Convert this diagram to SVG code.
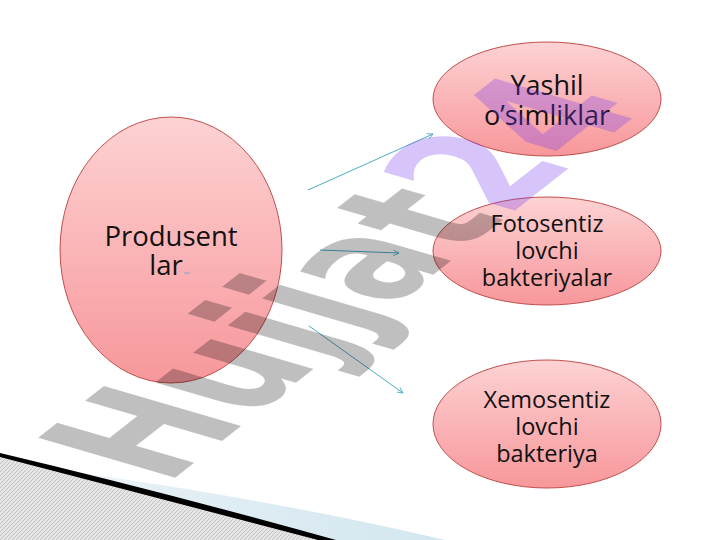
<svg xmlns="http://www.w3.org/2000/svg" width="720" height="540" viewBox="0 0 720 540">
  <defs>
    <linearGradient id="pinkFill" x1="0" y1="0" x2="0" y2="1">
      <stop offset="0" stop-color="#fdd2d3"/>
      <stop offset="1" stop-color="#f7979b"/>
    </linearGradient>
    <linearGradient id="blueBand" x1="0" y1="0" x2="1" y2="0">
      <stop offset="0" stop-color="#dcebf2" stop-opacity="0"/>
      <stop offset="0.35" stop-color="#dcebf2" stop-opacity="0.8"/>
      <stop offset="1" stop-color="#d3e6ef"/>
    </linearGradient>
    <pattern id="hatch" width="4" height="4" patternUnits="userSpaceOnUse">
      <rect width="4" height="4" fill="#e6e6e6"/>
      <path d="M-1,1 L1,-1 M0,4 L4,0 M3,5 L5,3" stroke="#c2c2c2" stroke-width="1"/>
    </pattern>
    <marker id="arrow" viewBox="0 0 10 10" refX="9" refY="5" markerWidth="7" markerHeight="7" markerUnits="userSpaceOnUse" orient="auto">
      <path d="M1,1 L9,5 L1,9" fill="none" stroke="#4bacc6" stroke-width="1.2"/>
    </marker>
    <style>
      .node ellipse { fill: url(#pinkFill); stroke: #c0504d; stroke-width: 1; }
      .node text { font-family: "Open Sans", "Noto Sans", sans-serif; fill: #111111; text-anchor: middle; }
      .conn line { stroke: #4bacc6; stroke-width: 1; marker-end: url(#arrow); }
    </style>
  </defs>

  <rect width="720" height="540" fill="#ffffff"/>

  <g id="decoration">
    <path d="M0,462 Q250,494 445,540 L330,540 Q150,492 0,455 Z" fill="url(#blueBand)"/>
    <path d="M0,456 Q150,494 322,540 L0,540 Z" fill="url(#hatch)"/>
    <path d="M0,453 Q160,491 336,540 L318,540 Q150,496 0,457 Z" fill="#000"/>
  </g>

  <g id="node-produsentlar" class="node">
    <ellipse cx="171" cy="250" rx="111" ry="133"/>
    <text font-size="27.5"><tspan x="171" y="246">Produsent</tspan><tspan x="166" y="275">lar</tspan></text>
    <line x1="184" y1="273" x2="190" y2="273" stroke="#7fa9b8" stroke-width="1"/>
  </g>

  <g id="node-yashil" class="node">
    <ellipse cx="547" cy="99" rx="114" ry="57"/>
    <text font-size="27"><tspan x="547" y="95">Yashil</tspan><tspan x="547" y="125">o’simliklar</tspan></text>
  </g>

  <g id="node-fotosentiz" class="node">
    <ellipse cx="547" cy="251" rx="114" ry="54"/>
    <text font-size="23.5"><tspan x="547" y="232">Fotosentiz</tspan><tspan x="547" y="259">lovchi</tspan><tspan x="547" y="286">bakteriyalar</tspan></text>
  </g>

  <g id="node-xemosentiz" class="node">
    <ellipse cx="547" cy="424" rx="114" ry="64"/>
    <text font-size="23.5"><tspan x="547" y="408">Xemosentiz</tspan><tspan x="547" y="435">lovchi</tspan><tspan x="547" y="462">bakteriya</tspan></text>
  </g>

  <g id="connectors" class="conn">
    <line x1="308" y1="190" x2="433" y2="134"/>
    <line x1="320" y1="250" x2="399" y2="253"/>
    <line x1="309" y1="326" x2="403" y2="393"/>
  </g>

  <g id="watermark" font-family="DejaVu Sans" font-weight="bold" font-size="100">
    <text transform="matrix(1.007,-0.792,1.88,0.549,166,485)"><tspan fill="#000000" fill-opacity="0.25">Hujjat</tspan><tspan fill="#783cf0" fill-opacity="0.3">24</tspan></text>
  </g>
</svg>
